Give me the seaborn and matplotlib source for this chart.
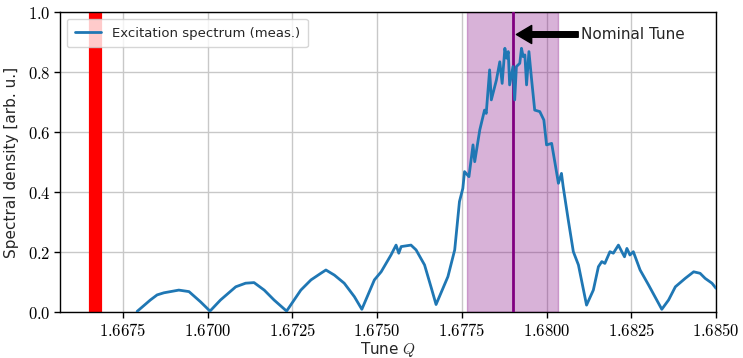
import numpy as np
import pandas as pd
import seaborn as sns
import matplotlib
matplotlib.use("Agg")
import matplotlib.pyplot as plt
from matplotlib.ticker import FuncFormatter

# Measured excitation spectrum (tune vs. spectral density)
tune = [
    1.66792, 1.66831, 1.66851, 1.66871, 1.66915, 1.66945, 1.66979, 1.67007,
    1.67038, 1.67083, 1.67112, 1.67137, 1.67167, 1.67196, 1.67233, 1.67275,
    1.67305, 1.67334, 1.67349, 1.67374, 1.67403, 1.67433, 1.67455, 1.67492,
    1.67512, 1.67541, 1.67556, 1.67564, 1.67571, 1.67600, 1.67615, 1.67640,
    1.67660, 1.67674, 1.67709, 1.67729, 1.67743, 1.67753, 1.67758, 1.67771,
    1.67783, 1.67788, 1.67803, 1.67817, 1.67822, 1.67832, 1.67837, 1.67852,
    1.67862, 1.67869, 1.67877, 1.67882, 1.67887, 1.67891, 1.67901, 1.67906,
    1.67911, 1.67921, 1.67926, 1.67931, 1.67936, 1.67941, 1.67948, 1.67956,
    1.67965, 1.67980, 1.67992, 1.68000, 1.68015, 1.68025, 1.68035, 1.68044,
    1.68049, 1.68064, 1.68079, 1.68094, 1.68118, 1.68138, 1.68153, 1.68163,
    1.68172, 1.68187, 1.68197, 1.68212, 1.68222, 1.68230, 1.68237, 1.68246,
    1.68256, 1.68276, 1.68301, 1.68340, 1.68360, 1.68380, 1.68409, 1.68434,
    1.68453, 1.68468, 1.68488, 1.68500,
]
density = [
    0.002, 0.040, 0.057, 0.064, 0.073, 0.068, 0.034, 0.003,
    0.040, 0.084, 0.096, 0.098, 0.073, 0.040, 0.003, 0.073,
    0.107, 0.129, 0.140, 0.123, 0.096, 0.051, 0.009, 0.107,
    0.134, 0.190, 0.223, 0.196, 0.218, 0.223, 0.207, 0.157,
    0.080, 0.025, 0.118, 0.207, 0.368, 0.412, 0.468, 0.451,
    0.557, 0.501, 0.607, 0.673, 0.662, 0.807, 0.707, 0.773,
    0.834, 0.762, 0.879, 0.846, 0.868, 0.757, 0.818, 0.707,
    0.818, 0.829, 0.879, 0.851, 0.857, 0.757, 0.868, 0.773,
    0.673, 0.668, 0.640, 0.557, 0.562, 0.496, 0.429, 0.462,
    0.418, 0.307, 0.201, 0.157, 0.023, 0.073, 0.151, 0.168,
    0.162, 0.201, 0.196, 0.223, 0.201, 0.184, 0.212, 0.190,
    0.201, 0.140, 0.090, 0.009, 0.040, 0.084, 0.112, 0.134,
    0.129, 0.112, 0.096, 0.079,
]

resonance_tune = 5 / 3
nominal_tune = 1.67901
tune_band = (1.67766, 1.68035)

x_ticks = [1.6675, 1.6700, 1.6725, 1.6750, 1.6775, 1.6800, 1.6825, 1.6850]
y_ticks = [0.0, 0.2, 0.4, 0.6, 0.8, 1.0]

sns.set_theme(style="ticks", rc={
    "axes.grid": True,
    "grid.color": "#c8c8c8",
    "grid.linewidth": 1.0,
    "axes.edgecolor": "black",
    "axes.linewidth": 1.0,
    "xtick.color": "black",
    "ytick.color": "black",
})
plt.rcParams["font.family"] = ["DejaVu Sans"]
plt.rcParams["mathtext.fontset"] = "cm"

df = pd.DataFrame({"tune": tune, "density": density})

fig, ax = plt.subplots(figsize=(7.43, 3.58), dpi=100)
fig.subplots_adjust(left=0.081, right=0.9637, top=0.9665, bottom=0.1285)

ax.axvline(resonance_tune, color="red", lw=9.5, zorder=2)
ax.axvspan(*tune_band, color="purple", alpha=0.3, zorder=1)
ax.axvline(nominal_tune, color="purple", lw=2, zorder=3)

sns.lineplot(data=df, x="tune", y="density", ax=ax, color="#1f77b4", lw=2,
             label="Excitation spectrum (meas.)", zorder=4)

ax.annotate("Nominal Tune", xy=(nominal_tune + 0.0001, 0.925),
            xytext=(1.68103, 0.925), fontsize=11, va="center", ha="left",
            arrowprops=dict(facecolor="black", edgecolor="black", width=4,
                            headwidth=13, headlength=11, shrink=0.0))

ax.set_xlim(1.66565, 1.6850)
ax.set_ylim(0, 1)
ax.set_xticks(x_ticks)
ax.set_yticks(y_ticks)
ax.xaxis.set_major_formatter(FuncFormatter(lambda v, p: f"${v:.4f}$"))
ax.yaxis.set_major_formatter(FuncFormatter(lambda v, p: f"${v:.1f}$"))
ax.tick_params(axis="both", labelsize=12, length=4, width=1, pad=3)
ax.set_xlabel("Tune $Q$", fontsize=11, labelpad=0)
ax.set_ylabel("Spectral density [arb. u.]", fontsize=11, labelpad=6)
ax.legend(loc="upper left", fontsize=9.5, frameon=True, borderpad=0.6)

fig.savefig("out.png", dpi=100)
